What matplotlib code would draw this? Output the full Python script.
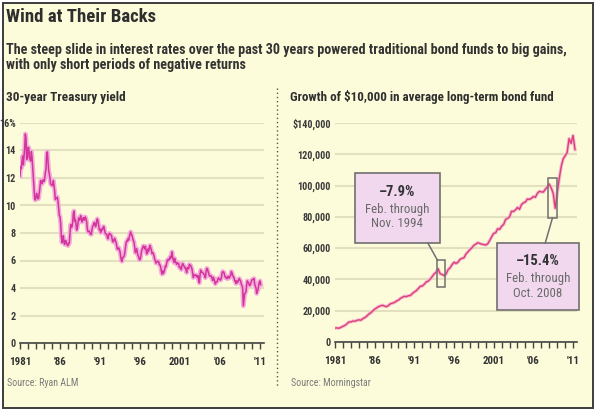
import numpy as np
import matplotlib
matplotlib.use("Agg")
import matplotlib.pyplot as plt
from matplotlib import font_manager
from matplotlib.patches import Rectangle


def pick_narrow_font():
    # prefer a narrow sans; fall back to Liberation Sans
    fonts = font_manager.fontManager.ttflist
    names = {f.name for f in fonts}
    for name in ['Liberation Sans Narrow', 'Roboto Condensed', 'Open Sans Condensed',
                 'Noto Sans Condensed', 'DejaVu Sans Condensed']:
        if name in names:
            return name, 'normal'
    for f in fonts:
        if f.name in ('Noto Sans', 'Open Sans', 'Roboto', 'DejaVu Sans') and \
                f.stretch in ('condensed', 'semi-condensed', 'extra-condensed'):
            return f.name, f.stretch
    return 'Liberation Sans', 'normal'


FONT, STRETCH = pick_narrow_font()
plt.rcParams['font.family'] = [FONT, 'DejaVu Sans']
plt.rcParams['font.stretch'] = STRETCH

W, H = 597, 415
CREAM = '#FDFCDA'
GRID = '#E3E0BF'
DARK = '#2E2E2E'
GRAY = '#6A6A6A'

# 30-year Treasury yield, monthly, Jan 1981 - Feb 2011 (percent)
yield_pct = [
    12.14, 12.80, 12.69, 13.20, 13.60, 12.96, 13.59, 14.17, 15.20, 14.90, 13.35, 13.45,  # 1981
    14.22, 14.22, 13.53, 13.37, 13.24, 13.92, 13.55, 12.77, 12.07, 11.17, 10.54, 10.40,  # 1982
    10.63, 10.88, 10.63, 10.48, 10.53, 10.93, 11.40, 11.82, 11.63, 11.58, 11.75, 11.88,  # 1983
    11.75, 11.95, 12.38, 12.65, 13.80, 13.90, 13.21, 12.54, 12.29, 11.98, 11.56, 11.52,  # 1984
    11.45, 11.47, 11.81, 11.47, 11.05, 10.44, 10.50, 10.56, 10.61, 10.31, 9.78, 9.26,    # 1985
    9.19, 8.70, 7.78, 7.30, 7.71, 7.80, 7.30, 7.17, 7.45, 7.43, 7.25, 7.11,              # 1986
    7.08, 7.25, 7.25, 8.02, 8.61, 8.40, 8.45, 8.76, 9.42, 9.60, 8.86, 8.99,              # 1987
    8.67, 8.21, 8.37, 8.72, 9.09, 8.92, 9.06, 9.26, 8.98, 8.80, 8.96, 9.11,              # 1988
    8.93, 9.01, 9.17, 9.03, 8.83, 8.27, 8.08, 8.12, 8.15, 8.00, 7.90, 7.90,              # 1989
    8.26, 8.50, 8.56, 8.76, 8.73, 8.46, 8.50, 8.86, 9.03, 8.86, 8.54, 8.24,              # 1990
    8.27, 8.03, 8.29, 8.21, 8.27, 8.47, 8.45, 8.14, 7.95, 7.93, 7.92, 7.70,              # 1991
    7.58, 7.85, 7.97, 7.96, 7.89, 7.84, 7.60, 7.39, 7.34, 7.53, 7.61, 7.44,              # 1992
    7.34, 7.09, 6.82, 6.85, 6.92, 6.81, 6.63, 6.32, 6.00, 5.94, 6.21, 6.25,              # 1993
    6.29, 6.49, 6.91, 7.27, 7.41, 7.40, 7.58, 7.49, 7.71, 7.94, 8.08, 7.87,              # 1994
    7.85, 7.61, 7.45, 7.36, 6.95, 6.57, 6.72, 6.86, 6.55, 6.37, 6.26, 6.06,              # 1995
    6.05, 6.24, 6.60, 6.79, 6.93, 7.06, 7.03, 6.84, 7.03, 6.81, 6.48, 6.55,              # 1996
    6.83, 6.69, 6.93, 7.09, 6.94, 6.77, 6.51, 6.58, 6.50, 6.33, 6.11, 5.99,              # 1997
    5.81, 5.89, 5.95, 5.92, 5.93, 5.70, 5.68, 5.54, 5.20, 5.01, 5.25, 5.06,              # 1998
    5.16, 5.37, 5.58, 5.55, 5.81, 6.04, 5.98, 6.07, 6.07, 6.26, 6.15, 6.35,              # 1999
    6.63, 6.23, 6.05, 5.85, 6.15, 5.93, 5.85, 5.72, 5.83, 5.80, 5.78, 5.49,              # 2000
    5.54, 5.45, 5.34, 5.65, 5.78, 5.67, 5.61, 5.48, 5.48, 5.32, 5.12, 5.48,              # 2001
    5.45, 5.40, 5.71, 5.67, 5.64, 5.52, 5.38, 5.08, 4.76, 4.93, 4.96, 4.92,              # 2002
    4.94, 4.81, 4.80, 4.90, 4.53, 4.37, 4.93, 5.30, 5.14, 5.16, 5.12, 5.07,              # 2003
    4.99, 4.93, 4.74, 5.14, 5.42, 5.41, 5.22, 5.06, 4.90, 4.86, 4.89, 4.86,              # 2004
    4.73, 4.55, 4.78, 4.65, 4.49, 4.29, 4.41, 4.46, 4.47, 4.68, 4.73, 4.65,              # 2005
    4.59, 4.58, 4.73, 5.06, 5.20, 5.15, 5.13, 4.91, 4.77, 4.80, 4.69, 4.68,              # 2006
    4.85, 4.82, 4.72, 4.87, 4.90, 5.20, 5.11, 4.93, 4.79, 4.77, 4.52, 4.53,              # 2007
    4.33, 4.52, 4.39, 4.44, 4.60, 4.69, 4.57, 4.50, 4.27, 4.17, 4.00, 2.70,              # 2008
    3.13, 3.59, 3.64, 3.76, 4.23, 4.52, 4.41, 4.37, 4.19, 4.19, 4.31, 4.49,              # 2009
    4.60, 4.62, 4.64, 4.69, 4.29, 4.13, 3.99, 3.60, 3.77, 3.87, 4.19, 4.42,              # 2010
    4.52, 4.25,                                                                          # 2011
]

# growth of $10,000 in the average long-term bond fund, quarterly, 1981 - 2011
fund_value = [
    8900, 9000, 8800, 9400,        # 1981
    10000, 10600, 11600, 12800,    # 1982
    12800, 13400, 13300, 13800,    # 1983
    14200, 13900, 14900, 15600,    # 1984
    16500, 17800, 18600, 19800,    # 1985
    21000, 21800, 22600, 23100,    # 1986
    23500, 22900, 22600, 23400,    # 1987
    24500, 24800, 25300, 26200,    # 1988
    26800, 27900, 28600, 29200,    # 1989
    29000, 29600, 29700, 31000,    # 1990
    32000, 32800, 34200, 35600,    # 1991
    35800, 36900, 38400, 38900,    # 1992
    40200, 41800, 43600, 44600,    # 1993
    46800, 43600, 43200, 42400,    # 1994
    43500, 46200, 47400, 49400,    # 1995
    51000, 50200, 51000, 52800,    # 1996
    53500, 53800, 56200, 57600,    # 1997
    59000, 60200, 61800, 62600,    # 1998
    63500, 63000, 62500, 62300,    # 1999
    62000, 62800, 64900, 67300,    # 2000
    69500, 69800, 72400, 72000,    # 2001
    74000, 75100, 78300, 79000,    # 2002
    80000, 83600, 83400, 84500,    # 2003
    86000, 84800, 87800, 89000,    # 2004
    89500, 91400, 91200, 91800,    # 2005
    93000, 92500, 95000, 96300,    # 2006
    96000, 95800, 97600, 99000,    # 2007
    101000, 98500, 95000, 85500,   # 2008
    95000, 104000, 112000, 117000, # 2009
    119000, 121000, 130000, 127000,  # 2010
    132000, 123000,                # 2011
]

yield_ticks = [0, 2, 4, 6, 8, 10, 12, 14, 16]
yield_ticklabels = ['0', '2', '4', '6', '8', '10', '12', '14', '16%']
fund_ticks = [0, 20000, 40000, 60000, 80000, 100000, 120000, 140000]
fund_ticklabels = ['0', '20,000', '40,000', '60,000', '80,000', '100,000', '120,000', '$140,000']
year_ticks = [1981, 1986, 1991, 1996, 2001, 2006, 2011]
year_labels = ['1981', "'86", "'91", "'96", '2001', "'06", "'11"]


def px_rect(x0, y0, x1, y1):
    # pixel box (top-left origin) -> figure fraction rect
    return [x0 / W, 1 - y1 / H, (x1 - x0) / W, (y1 - y0) / H]


fig = plt.figure(figsize=(W / 100, H / 100), dpi=100, facecolor='white')

# cream panel with dark frame, kept behind the axes
fig.patches.append(Rectangle((3 / W, 1 - 408 / H), 590 / W, 405 / H, transform=fig.transFigure,
                             facecolor=CREAM, edgecolor='#3C3C3C', lw=1.4, zorder=-10))

fig.text(6 / W, 1 - 17 / H, 'Wind at Their Backs', fontsize=13.5, fontweight='bold',
         color=DARK, va='center', ha='left')
fig.text(6 / W, 1 - 50 / H,
         'The steep slide in interest rates over the past 30 years powered traditional bond funds to big gains,',
         fontsize=10.2, fontweight='bold', color='#333333', va='center', ha='left')
fig.text(6 / W, 1 - 65 / H, 'with only short periods of negative returns',
         fontsize=10.2, fontweight='bold', color='#333333', va='center', ha='left')
fig.text(6 / W, 1 - 97 / H, '30-year Treasury yield', fontsize=9.5, fontweight='bold',
         color=DARK, va='center', ha='left')
fig.text(290 / W, 1 - 97 / H, 'Growth of $10,000 in average long-term bond fund', fontsize=9.4,
         fontweight='bold', color=DARK, va='center', ha='left')
fig.text(7 / W, 1 - 383 / H, 'Source: Ryan ALM', fontsize=7.2, color='#7A7A7A', va='center', ha='left')
fig.text(291 / W, 1 - 383 / H, 'Source: Morningstar', fontsize=7.2, color='#7A7A7A', va='center', ha='left')

# dotted divider between the panels
fig.add_artist(plt.Line2D([277 / W, 277 / W], [1 - 88 / H, 1 - 388 / H], transform=fig.transFigure,
                          color='#555555', lw=1, ls=(0, (1, 2))))


def style_axes(ax, yticks, ylabels, ymax):
    ax.set_facecolor('none')
    ax.set_xlim(1981, 2011.5)
    ax.set_ylim(0, ymax)
    for s in ['top', 'right', 'left']:
        ax.spines[s].set_visible(False)
    ax.spines['bottom'].set_color('#444444')
    ax.spines['bottom'].set_linewidth(1.2)
    ax.set_yticks(yticks)
    ax.set_yticklabels(ylabels)
    ax.tick_params(axis='y', length=0, pad=3, labelsize=7.3, labelcolor='#3A3A3A')
    for lab in ax.get_yticklabels():
        lab.set_fontweight('bold')
    ax.yaxis.grid(True, color=GRID, lw=1.5)
    ax.set_axisbelow(True)
    ax.set_xticks(year_ticks)
    ax.set_xticklabels(year_labels)
    ax.set_xticks(np.arange(1981, 2012), minor=True)
    ax.tick_params(axis='x', which='both', direction='out', length=4, width=1, color='#444444')
    ax.tick_params(axis='x', which='major', pad=6, labelsize=7.8, labelcolor='#333333')
    for lab in ax.get_xticklabels():
        lab.set_fontweight('bold')


axl = fig.add_axes(px_rect(20, 123, 264, 343))
style_axes(axl, yield_ticks, yield_ticklabels, 16)
t_yield = 1981 + np.arange(len(yield_pct)) / 12
axl.plot(t_yield, yield_pct, color='#F4AEDC', lw=3.4, solid_joinstyle='round')
axl.plot(t_yield, yield_pct, color='#D4359A', lw=1.1, solid_joinstyle='round')

axr = fig.add_axes(px_rect(335, 123, 577, 342))
style_axes(axr, fund_ticks, fund_ticklabels, 140000)
t_fund = 1981 + np.arange(len(fund_value)) / 4
axr.plot(t_fund, fund_value, color='#F5B8CC', lw=2.4, solid_joinstyle='round')
axr.plot(t_fund, fund_value, color='#DC3F7C', lw=1.0, solid_joinstyle='round')

# drawdown callouts
BOX_FILL = '#F1D8EE'
BOX_EDGE = '#707070'

axr.add_patch(Rectangle((1983.5, 63300), 10.7, 44700, facecolor=BOX_FILL, edgecolor=BOX_EDGE,
                        lw=1.2, zorder=4))
axr.text(1988.85, 96000, '\u20137.9%', ha='center', va='center', fontsize=10.5, fontweight='bold',
         color='#333333', zorder=5)
axr.text(1988.85, 85000, 'Feb. through', ha='center', va='center', fontsize=9.3, color=GRAY, zorder=5)
axr.text(1988.85, 75500, 'Nov. 1994', ha='center', va='center', fontsize=9.3, color=GRAY, zorder=5)
axr.plot([1992.7, 1993.9], [63300, 52400], color=BOX_EDGE, lw=1.1, zorder=4)
axr.add_patch(Rectangle((1993.9, 35000), 1.0, 17400, facecolor='none', edgecolor=BOX_EDGE,
                        lw=1.1, zorder=4))

axr.add_patch(Rectangle((2001.4, 20400), 10.4, 42900, facecolor=BOX_FILL, edgecolor=BOX_EDGE,
                        lw=1.2, zorder=4, clip_on=False))
axr.text(2006.6, 51500, '\u201315.4%', ha='center', va='center', fontsize=10.5, fontweight='bold',
         color='#333333', zorder=5)
axr.text(2006.6, 40500, 'Feb. through', ha='center', va='center', fontsize=9.3, color=GRAY, zorder=5)
axr.text(2006.6, 31000, 'Oct. 2008', ha='center', va='center', fontsize=9.3, color=GRAY, zorder=5)
axr.plot([2008.4, 2007.5], [79200, 63300], color=BOX_EDGE, lw=1.1, zorder=4)
axr.add_patch(Rectangle((2007.86, 79200), 1.14, 25600, facecolor='none', edgecolor=BOX_EDGE,
                        lw=1.1, zorder=4))

fig.savefig('out.png', dpi=100, facecolor='white')
